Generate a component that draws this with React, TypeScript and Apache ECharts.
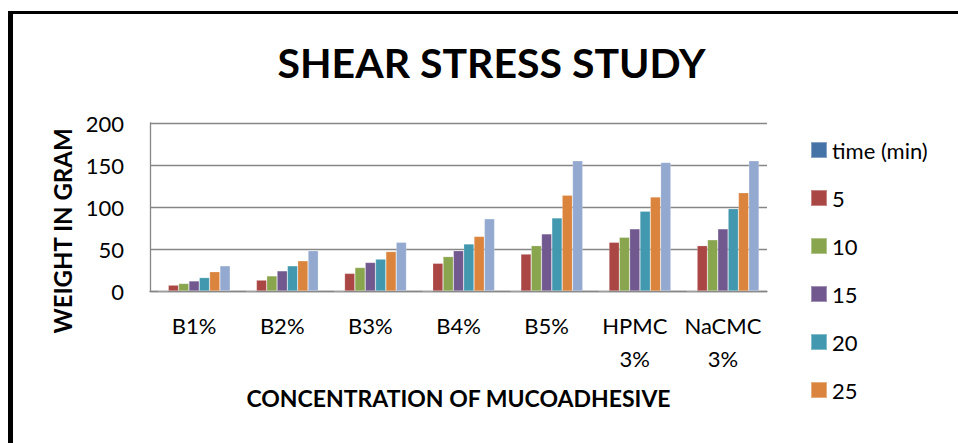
import React, { useEffect, useRef } from "react";
import * as echarts from "echarts";

const categories = ["B1%", "B2%", "B3%", "B4%", "B5%", "HPMC\n3%", "NaCMC\n3%"];
const seriesNames = ["time (min)", "5", "10", "15", "20", "25", "30"];
const legendNames = ["time (min)", "5", "10", "15", "20", "25"];
const timeMin = [0, 0, 0, 0, 0, 0, 0];
const t5 = [7, 13, 21, 33, 44, 58, 54];
const t10 = [9, 18, 28, 41, 54, 64, 61];
const t15 = [12, 24, 34, 48, 68, 74, 74];
const t20 = [16, 30, 38, 56, 87, 95, 98];
const t25 = [23, 36, 47, 65, 114, 112, 117];
const t30 = [30, 48, 58, 86, 155, 153, 155];
const seriesValues = [timeMin, t5, t10, t15, t20, t25, t30];
const colors = ["#4572A7", "#AA4643", "#89A54E", "#71588F", "#4198AF", "#DB843D", "#93A9CF"];

const FONT = "Lato, 'Open Sans', sans-serif";

export default function App() {
  const ref = useRef<HTMLDivElement>(null);
  useEffect(() => {
    if (!ref.current) return;
    const chart = echarts.init(ref.current, null, { renderer: "svg" });
    chart.setOption({
      animation: false,
      backgroundColor: "#ffffff",
      color: colors,
      textStyle: { fontFamily: FONT },
      grid: { left: 150, right: 191, top: 123, bottom: 152, containLabel: false },
      legend: {
        data: legendNames,
        orient: "vertical",
        left: 810,
        top: 139,
        padding: 0,
        itemWidth: 16,
        itemHeight: 16,
        itemGap: 26,
        icon: "rect",
        textStyle: { fontSize: 22, lineHeight: 22, color: "#000", fontFamily: FONT },
      },
      xAxis: {
        type: "category",
        data: categories,
        name: "CONCENTRATION OF MUCOADHESIVE",
        nameLocation: "middle",
        nameGap: 95,
        nameTextStyle: { fontSize: 23, fontWeight: "bold", color: "#000", fontFamily: FONT },
        axisLine: { show: true, lineStyle: { color: "#868686", width: 1.3 } },
        axisTick: { show: false },
        axisLabel: { margin: 18, fontSize: 22, lineHeight: 33, color: "#000", interval: 0, fontFamily: FONT },
      },
      yAxis: {
        type: "value",
        min: 0,
        max: 200,
        interval: 50,
        axisLine: { show: true, lineStyle: { color: "#868686", width: 1.3 } },
        axisTick: { show: false },
        axisLabel: { margin: 26, fontSize: 22, color: "#000", fontFamily: FONT },
        splitLine: { show: true, lineStyle: { color: "#868686", width: 1.3 } },
      },
      series: seriesNames.map((name, i) => ({
        name,
        type: "bar",
        data: seriesValues[i],
        barGap: "0%",
        barCategoryGap: "18%",
        itemStyle: { color: colors[i], borderColor: "rgba(255,255,255,0.35)", borderWidth: 0.6 },
      })),
      graphic: [
        {
          type: "text",
          x: 491.5,
          y: 62,
          style: {
            text: "SHEAR STRESS STUDY",
            font: `bold 41px ${FONT}`,
            fill: "#000",
            textAlign: "center",
            textVerticalAlign: "middle",
          },
        },
        {
          type: "text",
          x: 62,
          y: 231,
          rotation: Math.PI / 2,
          style: {
            text: "WEIGHT IN GRAM",
            font: `bold 24px ${FONT}`,
            fill: "#000",
            textAlign: "center",
            textVerticalAlign: "middle",
          },
        },
        {
          type: "line",
          shape: { x1: 8, y1: 12.5, x2: 958, y2: 12.5 },
          style: { stroke: "#000", lineWidth: 3 },
        },
        {
          type: "line",
          shape: { x1: 10.5, y1: 11, x2: 10.5, y2: 443 },
          style: { stroke: "#000", lineWidth: 5 },
        },
      ],
    });
    return () => chart.dispose();
  }, []);
  return (
    <div
      ref={ref}
      style={{ position: "fixed", left: 0, top: 0, width: 958, height: 443, background: "#fff" }}
    />
  );
}
